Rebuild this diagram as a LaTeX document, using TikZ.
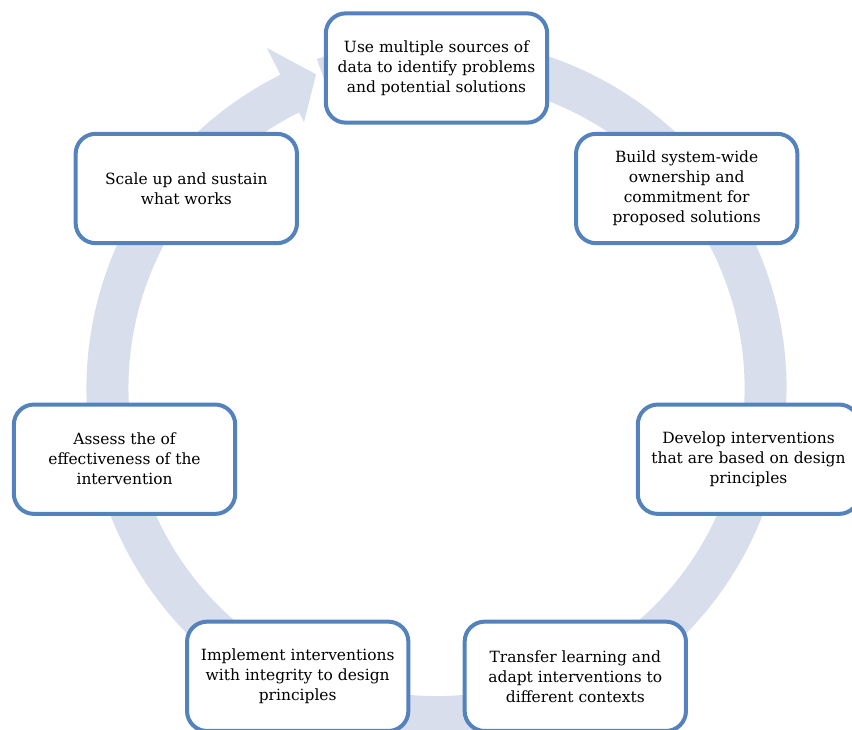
\documentclass[tikz,border=0pt]{standalone}
\usepackage{fontspec}
\setmainfont{DejaVu Serif}
\definecolor{ringfill}{RGB}{217,222,237}
\definecolor{boxline}{RGB}{84,130,189}
\tikzset{stage/.style={draw=boxline, line width=3pt, fill=white, rounded corners=15pt,
    minimum width=166pt, minimum height=82pt, align=center,
    font=\fontsize{11.6}{15}\selectfont}}
\begin{document}
\begin{tikzpicture}[x=0.75pt,y=0.75pt]
	\useasboundingbox (-436.5,388) rectangle (415.5,-341);
	% the cycle arrow
	\fill[ringfill] (116.5:350) arc[start angle=116.5, end angle=470, radius=350]
		-- (470:308) arc[start angle=470, end angle=116.5, radius=308]
		-- (116.5:297) -- (111:336) -- (116.5:380) -- cycle;
	
	\node[stage] (use) at (90:320) {Use multiple sources of\\data to identify problems\\and potential solutions};
	\node[stage] (build) at (38.57:320) {Build system-wide\\ownership and\\commitment for\\proposed solutions};
	\node[stage] (develop) at (-12.86:320) {Develop interventions\\that are based on design\\principles};
	\node[stage] (transfer) at (-64.29:320) {Transfer learning and\\adapt interventions to\\different contexts};
	\node[stage] (implement) at (-115.71:320) {Implement interventions\\with integrity to design\\principles};
	\node[stage] (assess) at (-167.14:320) {Assess the of\\effectiveness of the\\intervention};
	\node[stage] (scale) at (141.43:320) {Scale up and sustain\\what works};
\end{tikzpicture}
\end{document}
